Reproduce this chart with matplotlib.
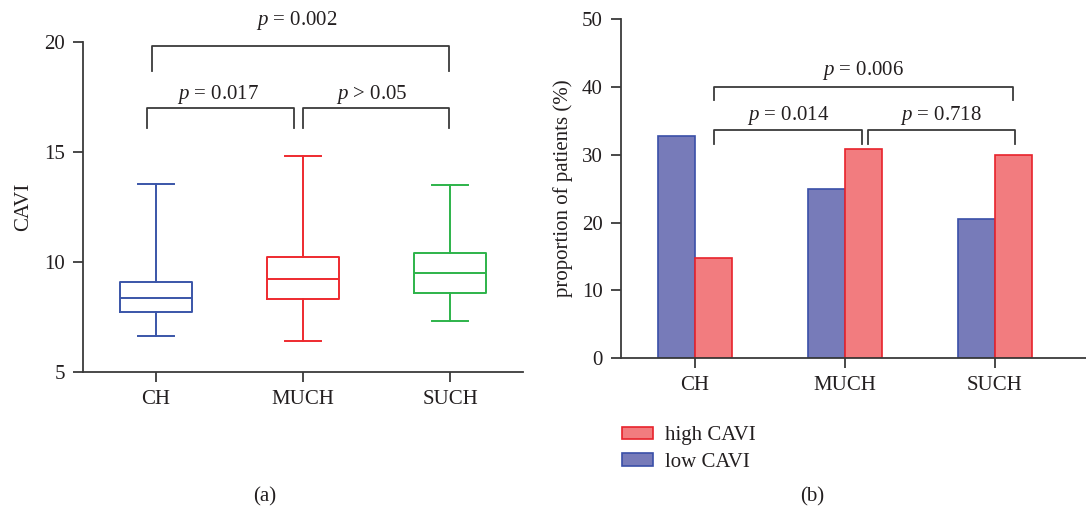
import matplotlib as mpl
mpl.use('Agg')
import matplotlib.pyplot as plt

groups = ['CH', 'MUCH', 'SUCH']

# box plot stats (CAVI): whisker low, Q1, median, Q3, whisker high
whislo = [6.65, 6.41, 7.33]
q1 = [7.74, 8.30, 8.58]
med = [8.35, 9.21, 9.51]
q3 = [9.10, 10.21, 10.42]
whishi = [13.55, 14.83, 13.50]
box_colors = ['#3a55a8', '#ee2a2f', '#2db34a']

# proportion of patients (%)
low_cavi = [32.8, 25.0, 20.5]
high_cavi = [14.8, 30.8, 30.0]

pvals_a = ['$p$ = 0.017', '$p$ > 0.05', '$p$ = 0.002']
pvals_b = ['$p$ = 0.014', '$p$ = 0.718', '$p$ = 0.006']

plt.rcParams['font.family'] = ['Liberation Serif', 'DejaVu Serif']
plt.rcParams['mathtext.fontset'] = 'custom'
plt.rcParams['mathtext.it'] = 'Liberation Serif:italic'
plt.rcParams['mathtext.rm'] = 'Liberation Serif'
txt = '#231f20'
axc = '#3a3a3a'
fs = 15

fig = plt.figure(figsize=(10.86, 5.09), dpi=100)


def style(ax):
    for s in ['top', 'right']:
        ax.spines[s].set_visible(False)
    for s in ['left', 'bottom']:
        ax.spines[s].set_color(axc)
        ax.spines[s].set_linewidth(1.3)
    ax.tick_params(length=7, width=1.3, color=axc, labelsize=15, labelcolor=txt, pad=6)


def bracket(ax, x0, x1, y, yb):
    ax.plot([x0, x0, x1, x1], [yb, y, y, yb], color=axc, lw=1.3, clip_on=False)


# (a) box plot
ax1 = fig.add_axes([83 / 1086, 1 - 372 / 509, (523 - 83) / 1086, (372 - 42) / 509])
stats = []
for i, g in enumerate(groups):
    stats.append(dict(label=g, whislo=whislo[i], q1=q1[i], med=med[i], q3=q3[i], whishi=whishi[i]))
for i, st in enumerate(stats):
    c = box_colors[i]
    ax1.bxp([st], positions=[i], widths=0.49, showfliers=False,
            boxprops=dict(color=c, lw=1.4), whiskerprops=dict(color=c, lw=1.4),
            capprops=dict(color=c, lw=1.4), medianprops=dict(color=c, lw=1.4),
            capwidths=0.245)
ax1.set_xlim(-0.497, 2.496)
ax1.set_ylim(5, 20)
ax1.set_yticks([5, 10, 15, 20])
ax1.set_xticks([0, 1, 2])
ax1.set_xticklabels(groups)
ax1.set_ylabel('CAVI', fontsize=fs, color=txt, labelpad=8)
style(ax1)
bracket(ax1, -0.06, 0.94, 16.98, 16.07)
bracket(ax1, 1.0, 1.99, 16.98, 16.07)
bracket(ax1, -0.03, 1.99, 19.82, 18.68)
ax1.text(0.42, 17.6, pvals_a[0], ha='center', va='center', fontsize=fs, color=txt)
ax1.text(1.47, 17.6, pvals_a[1], ha='center', va='center', fontsize=fs, color=txt)
ax1.text(0.96, 20.98, pvals_a[2], ha='center', va='center', fontsize=fs, color=txt, clip_on=False)

# (b) bar chart
ax2 = fig.add_axes([620.7 / 1086, 1 - 358.3 / 509, (1086 - 620.7) / 1086, (358.3 - 19) / 509])
w = 0.244
xs = range(len(groups))
ax2.bar([x - w / 2 for x in xs], low_cavi, width=w, color='#777bb9', edgecolor='#3a4fa8', lw=1.2, label='low CAVI')
ax2.bar([x + w / 2 for x in xs], high_cavi, width=w, color='#f27c7f', edgecolor='#e8232b', lw=1.2, label='high CAVI')
ax2.set_xlim(-0.495, 2.607)
ax2.set_ylim(0, 50)
ax2.set_yticks([0, 10, 20, 30, 40, 50])
ax2.set_xticks([0, 1, 2])
ax2.set_xticklabels(groups)
ax2.set_ylabel('proportion of patients (%)', fontsize=fs, color=txt, labelpad=6)
style(ax2)
bracket(ax2, 0.127, 1.113, 33.57, 31.6)
bracket(ax2, 1.151, 2.133, 33.57, 31.6)
bracket(ax2, 0.127, 2.12, 40.0, 38.1)
ax2.text(0.62, 35.75, pvals_b[0], ha='center', va='center', fontsize=fs, color=txt)
ax2.text(1.64, 35.75, pvals_b[1], ha='center', va='center', fontsize=fs, color=txt)
ax2.text(1.12, 42.35, pvals_b[2], ha='center', va='center', fontsize=fs, color=txt)

h, l = ax2.get_legend_handles_labels()
fig.legend(h[::-1], l[::-1], loc='upper left', bbox_to_anchor=(614 / 1086, 1 - 418 / 509),
           frameon=False, fontsize=fs, handlelength=1.45, handleheight=0.55,
           labelspacing=0.35, handletextpad=0.6, labelcolor=txt, borderaxespad=0)

fig.text(265 / 1086, 1 - 497 / 509, '(a)', ha='center', va='center', fontsize=fs, color=txt)
fig.text(812 / 1086, 1 - 497 / 509, '(b)', ha='center', va='center', fontsize=fs, color=txt)

fig.savefig('out.png', dpi=100)
